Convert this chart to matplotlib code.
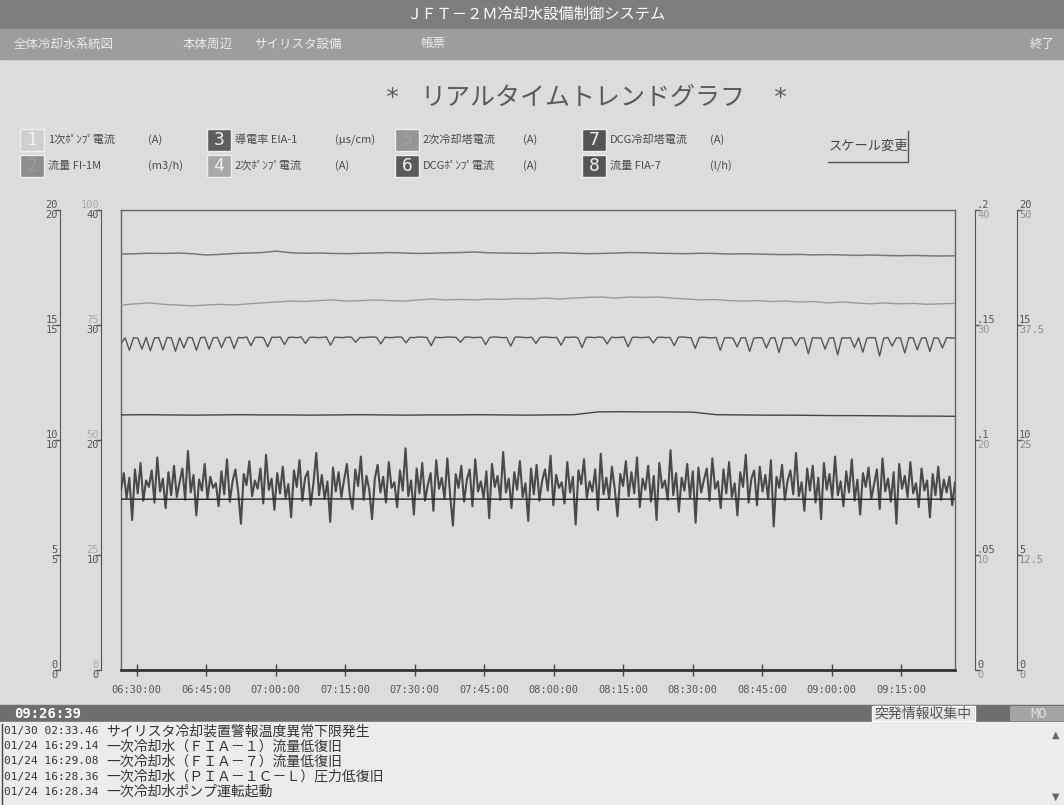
import matplotlib
matplotlib.use("Agg")
import matplotlib.pyplot as plt
from matplotlib.patches import Rectangle
import pandas as pd

plt.rcParams['font.family'] = ['Noto Sans CJK JP', 'DejaVu Sans']

# ------------------------------------------------
# データ

day = '2000-01-01 '
t_start = day + '06:26:39'
t_end = day + '09:26:39'
now_text = '09:26:39'

x_tick_labels = ['06:30:00', '06:45:00', '07:00:00', '07:15:00', '07:30:00', '07:45:00',
                 '08:00:00', '08:15:00', '08:30:00', '08:45:00', '09:00:00', '09:15:00']

# legend entries 1..8
ch_no = ['1', '2', '3', '4', '5', '6', '7', '8']
ch_name = ['1次ﾎﾟﾝﾌﾟ電流', '流量 FI-1M', '導電率 EIA-1', '2次ﾎﾟﾝﾌﾟ電流',
           '2次冷却塔電流', 'DCGﾎﾟﾝﾌﾟ電流', 'DCG冷却塔電流', '流量 FIA-7']
ch_unit = ['(A)', '(m3/h)', '(μs/cm)', '(A)', '(A)', '(A)', '(A)', '(l/h)']
ch_box = ['#cfcfcf', '#8e8e8e', '#5e5e5e', '#a8a8a8', '#959595', '#5a5a5a', '#555555', '#555555']
ch_digit = ['#f2f2f2', '#9c9c9c', '#f2f2f2', '#eeeeee', '#a2a2a2', '#f2f2f2', '#f2f2f2', '#f2f2f2']

# scale columns (upper / lower label at each of 5 levels)
col1_upper = ['0', '5', '10', '15', '20']
col1_lower = ['0', '5', '10', '15', '20']
col2_upper = ['0', '25', '50', '75', '100']
col2_lower = ['0', '10', '20', '30', '40']
col3_upper = ['0', '.05', '.1', '.15', '.2']
col3_lower = ['0', '10', '20', '30', '40']
col4_upper = ['0', '5', '10', '15', '20']
col4_lower = ['0', '12.5', '25', '37.5', '50']

# 流量 FI-1M (m3/h), scale 0-40
flow_fi1m = [36.17, 36.20, 36.24, 36.22, 36.26, 36.20, 36.09, 36.14, 36.22, 36.26,
             36.30, 36.43, 36.28, 36.24, 36.26, 36.22, 36.20, 36.24, 36.26, 36.30,
             36.26, 36.22, 36.24, 36.28, 36.30, 36.35, 36.28, 36.26, 36.24, 36.22,
             36.26, 36.28, 36.24, 36.20, 36.22, 36.26, 36.30, 36.28, 36.24, 36.22,
             36.20, 36.24, 36.22, 36.17, 36.20, 36.17, 36.14, 36.12, 36.14, 36.09,
             36.12, 36.09, 36.05, 36.09, 36.05, 36.02, 36.05, 36.02, 36.00, 36.02]

# 1次ﾎﾟﾝﾌﾟ電流 (A), scale 0-20
pump1_current = [15.87, 15.92, 15.96, 15.90, 15.87, 15.83, 15.87, 15.90, 15.87, 15.92,
                 15.96, 16.00, 16.04, 16.02, 16.06, 16.09, 16.04, 16.06, 16.09, 16.06,
                 16.04, 16.09, 16.13, 16.09, 16.11, 16.09, 16.13, 16.11, 16.15, 16.13,
                 16.17, 16.13, 16.17, 16.20, 16.22, 16.17, 16.22, 16.20, 16.22, 16.17,
                 16.13, 16.09, 16.11, 16.06, 16.04, 16.06, 16.02, 16.04, 16.00, 16.02,
                 15.96, 16.00, 15.96, 15.92, 15.96, 15.92, 15.94, 15.90, 15.92, 15.94]

# 2次ﾎﾟﾝﾌﾟ電流 (A), scale 0-20
pump2_current = [14.20, 14.44, 13.90, 14.45, 14.43, 13.95, 14.46, 13.88, 14.44, 14.45,
                 13.92, 14.46, 14.44, 13.86, 14.45, 14.00, 14.46, 14.44, 13.90, 14.45,
                 14.47, 13.95, 14.44, 14.46, 14.02, 14.45, 14.47, 13.98, 14.46, 14.44,
                 14.48, 14.10, 14.46, 14.47, 14.45, 14.05, 14.47, 14.46, 14.48, 14.15,
                 14.46, 14.47, 14.45, 14.48, 14.20, 14.46, 14.47, 14.45, 14.46, 14.48,
                 14.12, 14.47, 14.46, 14.45, 14.48, 14.47, 14.25, 14.46, 14.45, 14.47,
                 14.48, 14.46, 14.18, 14.47, 14.45, 14.46, 14.48, 14.47, 14.22, 14.46,
                 14.45, 14.48, 14.47, 14.46, 14.10, 14.47, 14.45, 14.46, 14.48, 14.47,
                 14.46, 14.25, 14.47, 14.48, 14.45, 14.46, 14.47, 14.15, 14.46, 14.48,
                 14.47, 14.45, 14.46, 14.08, 14.47, 14.48, 14.46, 14.45, 14.47, 14.20,
                 14.46, 14.48, 14.47, 14.45, 14.46, 14.12, 14.47, 14.46, 14.48, 14.45,
                 14.02, 14.46, 14.47, 14.45, 14.48, 14.46, 14.18, 14.47, 14.45, 14.46,
                 14.48, 14.05, 14.46, 14.47, 14.45, 14.46, 14.48, 14.22, 14.46, 14.47,
                 14.45, 14.46, 14.10, 14.47, 14.48, 14.46, 14.45, 13.98, 14.46, 14.47,
                 14.45, 14.44, 14.46, 13.90, 14.44, 14.45, 14.43, 14.05, 14.45, 14.44,
                 13.85, 14.43, 14.45, 14.44, 14.00, 14.43, 14.45, 13.80, 14.44, 14.43,
                 14.45, 14.10, 14.43, 14.44, 13.75, 14.45, 14.43, 14.44, 13.95, 14.43,
                 14.45, 13.70, 14.44, 14.43, 14.45, 14.02, 14.44, 13.82, 14.43, 14.45,
                 14.44, 13.65, 14.43, 14.45, 14.08, 14.44, 14.43, 13.78, 14.45, 14.44,
                 13.92, 14.43, 14.45, 13.85, 14.44, 14.43, 14.00, 14.45, 14.44, 14.42]

# 導電率 EIA-1 (μs/cm), scale 0-0.2
conductivity = [0.1109, 0.1110, 0.1109, 0.1108, 0.1109, 0.1110, 0.1109, 0.1109, 0.1108, 0.1109,
                0.1110, 0.1109, 0.1108, 0.1109, 0.1109, 0.1110, 0.1109, 0.1108, 0.1109, 0.1110,
                0.1122, 0.1123, 0.1122, 0.1122, 0.1121, 0.1110, 0.1109, 0.1108, 0.1108, 0.1107,
                0.1106, 0.1106, 0.1105, 0.1104, 0.1104, 0.1103]

# DCGﾎﾟﾝﾌﾟ電流 (A), scale 0-20
dcg_pump = [7.43, 7.42, 7.44, 7.43, 7.43, 7.42, 7.44, 7.43, 7.42, 7.43]

# 流量 FIA-7 (l/h), scale 0-50
flow_fia7 = [19.6, 21.4, 18.7, 20.9, 16.3, 21.8, 19.2, 22.5, 18.4, 20.6,
             19.9, 21.7, 18.2, 23.1, 19.4, 20.8, 17.6, 21.5, 19.0, 22.2,
             18.8, 20.4, 21.9, 18.5, 23.8, 19.3, 21.2, 16.8, 20.7, 19.5,
             22.4, 18.6, 21.0, 19.8, 20.3, 17.8, 21.6, 19.1, 22.9, 18.3,
             20.5, 21.8, 19.4, 15.9, 21.3, 20.1, 22.7, 18.9, 20.6, 19.7,
             21.9, 18.1, 23.4, 19.6, 20.8, 17.4, 21.4, 19.2, 22.1, 18.7,
             20.2, 16.6, 21.7, 19.9, 22.8, 18.4, 20.9, 21.6, 17.9, 20.3,
             23.6, 19.0, 21.2, 18.6, 20.5, 16.1, 22.0, 19.4, 21.5, 18.8,
             20.7, 22.4, 19.1, 17.5, 21.8, 20.0, 23.2, 18.5, 21.1, 19.6,
             16.4, 20.8, 22.3, 19.3, 21.0, 18.2, 22.6, 19.8, 20.4, 17.7,
             21.7, 19.5, 24.1, 18.9, 20.6, 16.9, 21.9, 19.2, 22.5, 18.4,
             20.1, 21.4, 17.3, 22.8, 19.7, 20.9, 18.6, 23.0, 19.0, 15.7,
             21.3, 19.8, 22.2, 18.3, 20.7, 21.8, 17.8, 22.9, 19.4, 20.5,
             18.7, 21.6, 16.5, 22.4, 19.9, 21.1, 18.5, 23.7, 19.3, 20.8,
             17.6, 21.5, 19.6, 22.7, 18.8, 20.3, 16.2, 21.9, 19.1, 22.3,
             18.4, 20.6, 21.8, 19.5, 23.3, 17.9, 21.2, 19.8, 20.4, 18.1,
             22.6, 19.3, 21.0, 15.8, 21.7, 20.2, 22.9, 18.7, 20.5, 19.4,
             21.8, 17.4, 23.5, 19.1, 20.9, 18.6, 22.1, 19.7, 16.7, 21.3,
             20.0, 22.7, 18.9, 21.5, 19.2, 23.1, 17.7, 20.8, 19.6, 22.2,
             18.3, 21.1, 16.3, 22.5, 19.8, 20.6, 18.5, 23.9, 19.0, 21.4,
             17.2, 20.9, 19.5, 22.4, 18.7, 21.6, 16.0, 22.0, 19.3, 20.7,
             21.9, 18.4, 23.0, 19.7, 20.5, 17.6, 21.8, 19.2, 22.6, 18.8,
             20.3, 16.8, 21.5, 19.9, 23.4, 18.2, 20.8, 21.7, 17.9, 22.1,
             19.4, 21.2, 18.6, 22.8, 15.6, 21.0, 19.8, 22.3, 18.5, 20.6,
             21.7, 19.1, 23.6, 18.9, 20.4, 17.3, 21.9, 19.5, 22.2, 18.2,
             20.9, 16.4, 22.5, 19.6, 21.3, 18.7, 23.2, 19.0, 20.5, 17.8,
             21.6, 19.3, 22.9, 18.4, 20.7, 16.9, 21.4, 19.9, 22.0, 18.6,
             20.2, 21.8, 17.5, 23.0, 19.4, 20.8, 18.3, 21.5, 15.9, 22.4,
             19.7, 21.1, 18.8, 22.6, 19.2, 20.3, 17.7, 21.9, 19.5, 20.6,
             16.6, 21.3, 19.0, 22.1, 18.5, 20.7, 19.3, 21.0, 17.9, 20.4]

menu_items = ['全体冷却水系統図', '本体周辺', 'サイリスタ設備', '帳票']
messages = [('01/30 02:33.46', 'サイリスタ冷却装置警報温度異常下限発生'),
            ('01/24 16:29.14', '一次冷却水（ＦＩＡ－１）流量低復旧'),
            ('01/24 16:29.08', '一次冷却水（ＦＩＡ－７）流量低復旧'),
            ('01/24 16:28.36', '一次冷却水（ＰＩＡ－１Ｃ－Ｌ）圧力低復旧'),
            ('01/24 16:28.34', '一次冷却水ポンプ運転起動')]

# ------------------------------------------------

W, H = 1064, 805
BG = '#dcdcdc'
MONO = 'DejaVu Sans Mono'

def rect(x, y, w, h):
    return [x / W, 1 - (y + h) / H, w / W, h / H]

def times(vals):
    return pd.date_range(t_start, t_end, periods=len(vals)).to_pydatetime()

fig = plt.figure(figsize=(W / 100, H / 100), dpi=100, facecolor=BG)

# screen furniture in pixel coordinates
bg = fig.add_axes([0, 0, 1, 1])
bg.set_xlim(0, W)
bg.set_ylim(H, 0)
bg.axis('off')

bg.add_patch(Rectangle((0, 0), W, 29, color='#7d7d7d'))
bg.add_patch(Rectangle((0, 29), W, 30, color='#9d9d9d'))
bg.text(536, 14, 'ＪＦＴ－２Ｍ冷却水設備制御システム', color='white', fontsize=11,
        ha='center', va='center')
for name, x in zip(menu_items, [14, 183, 254, 420]):
    bg.text(x, 44, name, color='#ececec', fontsize=9, va='center')
bg.text(1030, 44, '終了', color='#ececec', fontsize=9, va='center')

bg.text(392, 98, '*', color='#5a5a5a', fontsize=18, ha='center', va='center', family=MONO)
bg.text(583, 97, 'リアルタイムトレンドグラフ', color='#5a5a5a', fontsize=18, ha='center', va='center')
bg.text(780, 98, '*', color='#5a5a5a', fontsize=18, ha='center', va='center', family=MONO)

# legend
col_x = [20, 207, 395, 582]
row_y = [140, 166]
for i in range(8):
    c, r = i // 2, i % 2
    bx, by = col_x[c], row_y[r]
    bg.add_patch(Rectangle((bx, by - 11), 24, 22, facecolor=ch_box[i], edgecolor='#efefef', lw=1))
    bg.text(bx + 12, by, ch_no[i], color=ch_digit[i], fontsize=13, ha='center', va='center', family=MONO)
    bg.text(bx + 28, by, ch_name[i], color='#4a4a4a', fontsize=8, va='center')
    bg.text(bx + 128, by, ch_unit[i], color='#4a4a4a', fontsize=8, va='center')

bg.text(868, 146, 'スケール変更', color='#444', fontsize=9.5, ha='center', va='center')
bg.plot([828, 908, 908], [162, 162, 131], color='#555', lw=1)

# status bar and message log
bg.add_patch(Rectangle((0, 705), W, 17, color='#6e6e6e'))
bg.text(14, 713.5, now_text, color='white', fontsize=10, va='center', family=MONO, weight='bold')
bg.add_patch(Rectangle((872, 706), 103, 15, facecolor='#e6e6e6', edgecolor='white', lw=1))
bg.text(923, 713.5, '突発情報収集中', color='#555', fontsize=10, ha='center', va='center')
bg.add_patch(Rectangle((1010, 706), 54, 15, facecolor='#a4a4a4'))
bg.text(1030, 713.5, 'MO', color='#dedede', fontsize=10, va='center', family=MONO)
bg.add_patch(Rectangle((0, 722), W, 83, color='#ececec'))
bg.plot([2, 2], [724, 805], color='#444', lw=1)
for i, (stamp, msg) in enumerate(messages):
    y = 731 + 15.2 * i
    bg.text(4, y, stamp, color='#333', fontsize=8, va='center', family=MONO)
    bg.text(106, y, msg, color='#333', fontsize=10, va='center')
bg.text(1056, 735, '▲', color='#666', fontsize=7, ha='center', va='center', family='DejaVu Sans')
bg.text(1056, 797, '▼', color='#666', fontsize=7, ha='center', va='center', family='DejaVu Sans')

# ------------------------------------------------
# trend graph

ax = fig.add_axes(rect(121, 210, 834, 460))
ax.set_facecolor(BG)
ax.set_xlim(times([0, 0])[0], times([0, 0])[1])
ax.set_ylim(0, 20)
ax.set_yticks([])
tick_pos = pd.to_datetime([day + s for s in x_tick_labels]).to_pydatetime()
ax.set_xticks(tick_pos)
ax.set_xticklabels(x_tick_labels, family=MONO, fontsize=7.5, color='#555')
ax.tick_params(axis='x', direction='inout', length=8, width=1, color='#444', pad=7)
for s in ['left', 'top', 'right']:
    ax.spines[s].set_color('#666')
    ax.spines[s].set_linewidth(1)
ax.spines['bottom'].set_color('#333')
ax.spines['bottom'].set_linewidth(2)

def series(vals, full, color, lw):
    a = ax.twinx()
    a.set_ylim(0, full)
    a.axis('off')
    a.plot(times(vals), vals, color=color, lw=lw)

series(flow_fi1m, 40, '#777777', 1.1)
series(pump1_current, 20, '#9a9a9a', 1.0)
series(pump2_current, 20, '#555555', 1.0)
series(conductivity, 0.2, '#444444', 1.0)
series(flow_fia7, 50, '#4a4a4a', 1.5)
series(dcg_pump, 20, '#222222', 1.0)

# scale columns beside the graph
def scale_col(side, offset_px, upper, lower, ucol, lcol):
    for labels, va, col, is_spine in [(lower, 'top', lcol, True), (upper, 'bottom', ucol, False)]:
        a = ax.twinx()
        a.set_ylim(0, 4)
        for s in a.spines.values():
            s.set_visible(False)
        a.patch.set_visible(False)
        if side == 'left':
            a.yaxis.tick_left()
        else:
            a.yaxis.tick_right()
        a.spines[side].set_position(('outward', offset_px * 0.72))
        a.spines[side].set_visible(is_spine)
        a.spines[side].set_color('#555')
        a.set_yticks(range(5))
        a.set_yticklabels(labels, family=MONO, fontsize=7.5, color=col)
        if is_spine:
            a.tick_params(axis='y', direction='out', length=3.6, width=1, color='#555', pad=-2.2)
        else:
            a.tick_params(axis='y', length=0, pad=1.4)
        for t in a.get_yticklabels():
            t.set_va(va)

scale_col('left', 61, col1_upper, col1_lower, '#555', '#555')
scale_col('left', 20, col2_upper, col2_lower, '#aaaaaa', '#555')
scale_col('right', 20, col3_upper, col3_lower, '#555', '#999999')
scale_col('right', 62, col4_upper, col4_lower, '#555', '#888888')

fig.savefig('out.png', dpi=100, facecolor=BG)
